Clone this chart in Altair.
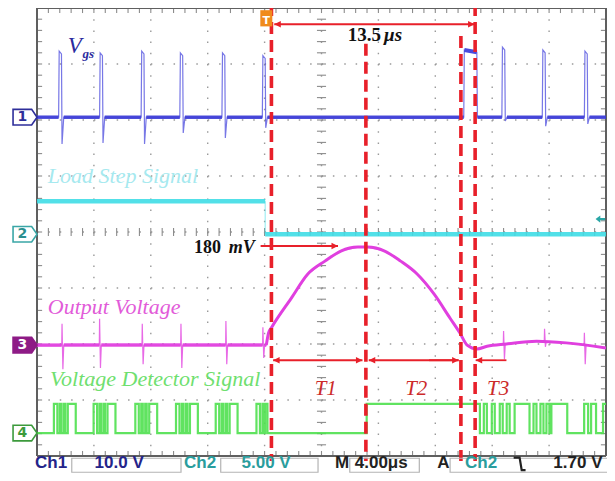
import altair as alt
import pandas as pd

# ---------------- graticule (units: screen divisions) ----------------
X_MAJOR = [1, 2, 3, 4, 5, 6, 7, 8, 9]
Y_MAJOR = [-3, -2, -1, 0, 1, 2, 3]
X_MINOR = [i / 5 for i in range(51)]
Y_MINOR = [-4 + i / 5 for i in range(41)]

# ---------------- channel 1 : Vgs ----------------
CH1_BASE = 2.05
VGS_PULSE_X = [0.38, 1.10, 1.83, 2.51, 3.25, 3.96, 8.17, 8.88, 9.62]
VGS_PULSE_TOP = [3.23, 3.20, 3.23, 3.20, 3.20, 3.15, 3.30, 3.25, 3.23]
VGS_PULSE_LOW = [1.57, 1.59, 1.57, 1.77, 1.68, 1.86, 1.98, 1.89, 1.93]
VGS_WIDE_X = [7.50, 7.74]
VGS_WIDE_TOP = [3.25, 3.21]

# ---------------- channel 2 : load step ----------------
CH2_X = [0.0, 4.01, 10.0]
CH2_LEVEL = [0.55, -0.04]

# ---------------- channel 3 : output voltage ----------------
CH3_BASE = -2.02
MAG_PRE_X = [0.44, 1.10, 1.85, 2.53, 3.32, 3.97]
MAG_PRE_UP = [-1.64, -1.55, -1.64, -1.64, -1.59, -1.70]
MAG_PRE_LOW = [-2.45, -2.43, -2.36, -2.43, -2.36, -2.25]
MAG_HUMP_X = [4.03, 4.07, 4.12, 4.47, 4.76, 5.06, 5.34, 5.64, 5.81, 6.11, 6.39,
              6.68, 6.98, 7.26, 7.43, 7.56, 7.73, 7.91, 8.25, 8.78, 9.30, 10.0]
MAG_HUMP_Y = [-2.02, -1.80, -1.71, -1.18, -0.75, -0.52, -0.34, -0.27, -0.27, -0.34, -0.52,
              -0.75, -1.11, -1.54, -1.80, -2.02, -2.09, -2.04, -2.00, -1.95, -1.98, -2.07]
MAG_POST_X = [8.20, 8.92, 9.62]
MAG_POST_BASE = [-2.00, -1.96, -2.02]
MAG_POST_UP = [-1.77, -1.73, -1.80]
MAG_POST_LOW = [-2.27, -2.05, -2.36]

# ---------------- channel 4 : voltage detector ----------------
CH4_LOW, CH4_HIGH = -3.59, -3.07
CH4_EDGES = [0.297, 0.358, 0.401, 0.428, 0.471, 0.497, 0.541, 0.681,
             0.995, 1.056, 1.099, 1.126, 1.169, 1.195, 1.239, 1.379,
             1.728, 1.789, 1.832, 1.859, 1.902, 1.928, 1.972, 2.112,
             2.443, 2.504, 2.548, 2.574, 2.618, 2.644, 2.688, 2.827,
             3.141, 3.202, 3.246, 3.272, 3.316, 3.342, 3.386, 3.525,
             3.857, 3.918, 3.962, 3.988, 4.010, 4.050,
             5.794,
             7.784, 7.853, 7.906, 7.993, 8.045, 8.133, 8.185, 8.255, 8.307, 8.394,
             8.656, 8.726, 8.778, 8.848, 8.901, 8.953, 9.005, 9.040, 9.319, 9.616,
             9.686, 9.738, 9.825, 9.948]

# ---------------- red annotations ----------------
RED_LINE_X = [4.12, 5.78, 7.45, 7.70]
RED_LINE_TOP = [4.07, 3.36, 3.50, 4.07]
RED_LINE_BOTTOM = [-4.09, -4.09, -4.09, -4.09]
ARROW_Y = [3.71, -0.25, -2.29, -2.29, -2.29, -2.29]
ARROW_X1 = [4.17, 3.93, 4.15, 5.83, 6.89, 7.71]
ARROW_X2 = [7.69, 5.29, 5.72, 7.41, 7.41, 8.25]
ARROW_HEAD_LEFT = [True, False, True, True, False, True]
ARROW_HEAD_RIGHT = [True, True, True, True, True, False]

# ---------------- texts ----------------
TRACE_LABELS = ["Load Step Signal", "Output Voltage", "Voltage Detector Signal", "V", "T1", "T2", "T3"]
TRACE_LABEL_X = [0.19, 0.19, 0.23, 0.54, 4.88, 6.47, 7.91]
TRACE_LABEL_Y = [0.875, -1.46, -2.75, 3.20, -2.91, -2.91, -2.91]
TRACE_LABEL_COLOR = ["#a6e9ef", "#e25bd9", "#6fdf6f", "#2b2b9e", "#cc2a2a", "#cc2a2a", "#cc2a2a"]
TRACE_LABEL_SIZE = [22, 22, 22, 23, 21, 21, 21]

BOLD_ITALIC = ["gs", "\u03bcs", "mV"]
BOLD_ITALIC_X = [0.80, 6.10, 3.37]
BOLD_ITALIC_Y = [3.10, 3.41, -0.375]
BOLD_ITALIC_COLOR = ["#2b2b9e", "#111111", "#111111"]
BOLD_ITALIC_SIZE = [13, 19, 18]

BOLD_SERIF = ["13.5", "180"]
BOLD_SERIF_X = [5.46, 2.76]
BOLD_SERIF_Y = [3.41, -0.375]
BOLD_SERIF_SIZE = [19, 18]

CH_MARK_NUM = ["1", "2", "3", "4"]
CH_MARK_Y = [2.05, -0.04, -2.02, -3.59]
CH_MARK_FILL = ["#ffffff", "#ffffff", "#8e1b86", "#ffffff"]
CH_MARK_STROKE = ["#2e2e9a", "#3aa6a6", "#8e1b86", "#3c9a3c"]
CH_MARK_TEXT = ["#2e2e9a", "#2a8f8f", "#ffffff", "#3c9a3c"]

STATUS_TEXT = ["Ch1", "10.0 V", "Ch2", "5.00 V", "M", "4.00\u03bcs", "A", "Ch2", "1.70 V"]
STATUS_X = [-0.035, 1.012, 2.583, 3.595, 5.236, 5.585, 7.033, 7.522, 9.075]
STATUS_COLOR = ["#24248a", "#24248a", "#2a9d9d", "#2a9d9d", "#222222", "#222222",
                "#222222", "#2a9d9d", "#222222"]
STATUS_BOX_X1 = [0.611, 3.229, 5.497, 7.260]
STATUS_BOX_X2 = [2.531, 4.939, 6.719, 10.17]
SLOPE_X = 8.50

# =====================================================================
XS = alt.Scale(domain=[0, 10], nice=False, zero=False)
YS = alt.Scale(domain=[-4, 4], nice=False, zero=False)


def X(f):
    return alt.X(f, type="quantitative", scale=XS, axis=None)


def Y(f):
    return alt.Y(f, type="quantitative", scale=YS, axis=None)


layers = []

# ---- graticule ----
vgrid = pd.DataFrame({"x": X_MAJOR, "y": 4.0, "y2": -4.0})
hgrid = pd.DataFrame({"y": Y_MAJOR, "x": 0.0, "x2": 10.0})
layers.append(alt.Chart(vgrid).mark_rule(color="#9a9a9a", strokeWidth=1.4, strokeDash=[1.5, 9.7])
              .encode(x=X("x"), y=Y("y"), y2="y2"))
layers.append(alt.Chart(hgrid).mark_rule(color="#9a9a9a", strokeWidth=1.4, strokeDash=[1.5, 9.88])
              .encode(x=X("x"), x2="x2", y=Y("y")))

vt = []
for xm in X_MINOR:
    vt += [(xm, 4.0, 3.91), (xm, -4.0, -3.91), (xm, 0.07, -0.07)]
ht = []
for ym in Y_MINOR:
    ht += [(0.0, 0.09, ym), (10.0, 9.91, ym), (4.92, 5.08, ym)]
layers.append(alt.Chart(pd.DataFrame(vt, columns=["x", "y", "y2"]))
              .mark_rule(color="#8c8c8c", strokeWidth=1.1).encode(x=X("x"), y=Y("y"), y2="y2"))
layers.append(alt.Chart(pd.DataFrame(ht, columns=["x", "x2", "y"]))
              .mark_rule(color="#8c8c8c", strokeWidth=1.1).encode(x=X("x"), x2="x2", y=Y("y")))

frame_h = pd.DataFrame({"x": [0.0, 0.0], "x2": [10.0, 10.0], "y": [4.0, -4.0]})
frame_v = pd.DataFrame({"x": [0.0, 10.0], "y": [4.0, 4.0], "y2": [-4.0, -4.0]})
layers.append(alt.Chart(frame_h).mark_rule(color="#5f5f5f", strokeWidth=2)
              .encode(x=X("x"), x2="x2", y=Y("y")))
layers.append(alt.Chart(frame_v).mark_rule(color="#5f5f5f", strokeWidth=2)
              .encode(x=X("x"), y=Y("y"), y2="y2"))

# ---- channel 2 (load step) ----
ch2_seg = pd.DataFrame({"x": CH2_X[:-1], "x2": CH2_X[1:], "y": CH2_LEVEL})
layers.append(alt.Chart(ch2_seg).mark_rule(color="#3fdde6", strokeWidth=4.5, opacity=0.9)
              .encode(x=X("x"), x2="x2", y=Y("y")))
layers.append(alt.Chart(pd.DataFrame({"x": [CH2_X[1]], "y": [CH2_LEVEL[0]], "y2": [CH2_LEVEL[1]]}))
              .mark_rule(color="#3fdde6", strokeWidth=1, opacity=0.6)
              .encode(x=X("x"), y=Y("y"), y2="y2"))

# ---- channel 1 (Vgs) ----
vgs = [(0.0, CH1_BASE)]
intervals = []
for p, t, lo in zip(VGS_PULSE_X, VGS_PULSE_TOP, VGS_PULSE_LOW):
    vgs += [(p, CH1_BASE), (p + 0.01, t), (p + 0.05, t - 0.05), (p + 0.06, lo), (p + 0.09, CH1_BASE)]
    intervals.append((p, p + 0.09))
vgs += [(VGS_WIDE_X[0], CH1_BASE), (VGS_WIDE_X[0] + 0.01, VGS_WIDE_TOP[0]),
        (VGS_WIDE_X[1] - 0.01, VGS_WIDE_TOP[1]), (VGS_WIDE_X[1], CH1_BASE)]
intervals.append((VGS_WIDE_X[0], VGS_WIDE_X[1]))
vgs.append((10.0, CH1_BASE))
vgs = sorted(vgs)
layers.append(alt.Chart(pd.DataFrame(vgs, columns=["x", "y"]))
              .mark_line(color="#4a4ade", strokeWidth=1.2, opacity=0.75)
              .encode(x=X("x"), y=Y("y")))
band = []
start = 0.0
for a, b in sorted(intervals):
    band.append((start, a))
    start = b
band.append((start, 10.0))
layers.append(alt.Chart(pd.DataFrame(band, columns=["x", "x2"]).assign(y=CH1_BASE))
              .mark_rule(color="#3b3bd6", strokeWidth=3.5, opacity=0.9)
              .encode(x=X("x"), x2="x2", y=Y("y")))
layers.append(alt.Chart(pd.DataFrame({"x": [VGS_WIDE_X[0] + 0.01], "x2": [VGS_WIDE_X[1] - 0.01],
                                      "y": [VGS_WIDE_TOP[0]], "y2": [VGS_WIDE_TOP[1]]}))
              .mark_rule(color="#4a4ade", strokeWidth=4)
              .encode(x=X("x"), x2="x2", y=Y("y"), y2="y2"))

# ---- channel 4 (detector) ----
g = [(0.0, CH4_LOW)]
lvl = CH4_LOW
for e in CH4_EDGES:
    lvl = CH4_HIGH if lvl == CH4_LOW else CH4_LOW
    g.append((e, lvl))
g.append((10.0, lvl))
layers.append(alt.Chart(pd.DataFrame(g, columns=["x", "y"]))
              .mark_line(color="#4fe04f", strokeWidth=2.2, interpolate="step-after", opacity=0.9)
              .encode(x=X("x"), y=Y("y")))

# ---- channel 3 (output voltage) ----
m = [(0.0, CH3_BASE)]
mint = []
for p, u, lo in zip(MAG_PRE_X, MAG_PRE_UP, MAG_PRE_LOW):
    m += [(p - 0.005, CH3_BASE), (p, u), (p + 0.015, lo), (p + 0.03, CH3_BASE)]
    mint.append((p - 0.005, p + 0.03))
m += list(zip(MAG_HUMP_X, MAG_HUMP_Y))
for p, b, u, lo in zip(MAG_POST_X, MAG_POST_BASE, MAG_POST_UP, MAG_POST_LOW):
    m += [(p - 0.005, b), (p, u), (p + 0.015, lo), (p + 0.03, b)]
m = sorted(m)
layers.append(alt.Chart(pd.DataFrame(m, columns=["x", "y"]))
              .mark_line(color="#e244e0", strokeWidth=1.2, opacity=0.8)
              .encode(x=X("x"), y=Y("y")))
layers.append(alt.Chart(pd.DataFrame({"x": MAG_HUMP_X, "y": MAG_HUMP_Y}))
              .mark_line(color="#e03fdf", strokeWidth=3, interpolate="monotone")
              .encode(x=X("x"), y=Y("y")))
mband = []
start = 0.0
for a, b in mint:
    mband.append((start, a))
    start = b
mband.append((start, MAG_HUMP_X[0]))
layers.append(alt.Chart(pd.DataFrame(mband, columns=["x", "x2"]).assign(y=CH3_BASE))
              .mark_rule(color="#e03fdf", strokeWidth=3.5, opacity=0.9)
              .encode(x=X("x"), x2="x2", y=Y("y")))

# ---- red annotations ----
layers.append(alt.Chart(pd.DataFrame({"x": RED_LINE_X, "y": RED_LINE_TOP, "y2": RED_LINE_BOTTOM}))
              .mark_rule(color="#e8202a", strokeWidth=3.6, strokeDash=[12, 6])
              .encode(x=X("x"), y=Y("y"), y2="y2"))
layers.append(alt.Chart(pd.DataFrame({"x": ARROW_X1, "x2": ARROW_X2, "y": ARROW_Y}))
              .mark_rule(color="#e8202a", strokeWidth=1.8)
              .encode(x=X("x"), x2="x2", y=Y("y")))
heads_r = pd.DataFrame({"x": [b for b, h in zip(ARROW_X2, ARROW_HEAD_RIGHT) if h],
                        "y": [y for y, h in zip(ARROW_Y, ARROW_HEAD_RIGHT) if h]}).drop_duplicates()
heads_l = pd.DataFrame({"x": [a for a, h in zip(ARROW_X1, ARROW_HEAD_LEFT) if h],
                        "y": [y for y, h in zip(ARROW_Y, ARROW_HEAD_LEFT) if h]})
layers.append(alt.Chart(heads_r).mark_point(shape="M0,0 L-1,-0.5 L-1,0.5 Z", filled=True,
                                            color="#e8202a", size=170, opacity=1)
              .encode(x=X("x"), y=Y("y")))
layers.append(alt.Chart(heads_l).mark_point(shape="M0,0 L1,-0.5 L1,0.5 Z", filled=True,
                                            color="#e8202a", size=170, opacity=1)
              .encode(x=X("x"), y=Y("y")))

# ---- trigger marker, right-side ch2 level arrow ----
layers.append(alt.Chart(pd.DataFrame({"x": [4.03], "y": [3.80]}))
              .mark_point(shape="M-1,-1.5 L1,-1.5 L1,1.2 L-1,1.2 Z", filled=True, color="#f08a1c",
                          size=144, opacity=1)
              .encode(x=X("x"), y=Y("y")))
layers.append(alt.Chart(pd.DataFrame({"x": [4.03], "y": [3.77], "t": ["T"]}))
              .mark_text(font="DejaVu Sans", fontWeight="bold", fontSize=11, color="white",
                         align="center", baseline="middle")
              .encode(x=X("x"), y=Y("y"), text="t:N"))
layers.append(alt.Chart(pd.DataFrame({"x": [9.90], "y": [0.23]}))
              .mark_point(shape="M-1,0 L0,-0.75 L0,-0.25 L1,-0.25 L1,0.25 L0,0.25 L0,0.75 Z",
                          filled=True, color="#2aa6a6", size=90, opacity=1)
              .encode(x=X("x"), y=Y("y")))

# ---- channel markers ----
cm = pd.DataFrame({"x": -0.21, "y": CH_MARK_Y, "fill": CH_MARK_FILL, "stroke": CH_MARK_STROKE,
                   "tc": CH_MARK_TEXT, "t": CH_MARK_NUM})
layers.append(alt.Chart(cm).mark_point(shape="M-1,-0.65 L0.55,-0.65 L1,0 L0.55,0.65 L-1,0.65 Z",
                                       filled=True, size=576, strokeWidth=1.6, opacity=1)
              .encode(x=X("x"), y=Y("y"), fill=alt.Fill("fill:N", scale=None),
                      stroke=alt.Stroke("stroke:N", scale=None)))
layers.append(alt.Chart(cm.assign(x=-0.255)).mark_text(font="DejaVu Sans", fontSize=14, fontWeight="bold",
                                                      align="center", baseline="middle")
              .encode(x=X("x"), y=Y("y"), text="t:N", color=alt.Color("tc:N", scale=None)))

# ---- trace labels ----
tl = pd.DataFrame({"t": TRACE_LABELS, "x": TRACE_LABEL_X, "y": TRACE_LABEL_Y,
                   "c": TRACE_LABEL_COLOR, "s": TRACE_LABEL_SIZE})
layers.append(alt.Chart(tl).mark_text(font="Liberation Serif", fontStyle="italic", align="left",
                                      baseline="alphabetic")
              .encode(x=X("x"), y=Y("y"), text="t:N", color=alt.Color("c:N", scale=None),
                      size=alt.Size("s:Q", scale=None)))
bi = pd.DataFrame({"t": BOLD_ITALIC, "x": BOLD_ITALIC_X, "y": BOLD_ITALIC_Y,
                   "c": BOLD_ITALIC_COLOR, "s": BOLD_ITALIC_SIZE})
layers.append(alt.Chart(bi).mark_text(font="Liberation Serif", fontStyle="italic", fontWeight="bold",
                                      align="left", baseline="alphabetic")
              .encode(x=X("x"), y=Y("y"), text="t:N", color=alt.Color("c:N", scale=None),
                      size=alt.Size("s:Q", scale=None)))
bs = pd.DataFrame({"t": BOLD_SERIF, "x": BOLD_SERIF_X, "y": BOLD_SERIF_Y, "s": BOLD_SERIF_SIZE})
layers.append(alt.Chart(bs).mark_text(font="Liberation Serif", fontWeight="bold",
                                      color="#111111", align="left", baseline="alphabetic")
              .encode(x=X("x"), y=Y("y"), text="t:N", size=alt.Size("s:Q", scale=None)))

# ---- status bar ----
sb = pd.DataFrame({"x": STATUS_BOX_X1, "x2": STATUS_BOX_X2, "y": -4.04, "y2": -4.29})
layers.append(alt.Chart(sb).mark_rect(fillOpacity=0, stroke="#b4b4b4", strokeWidth=1.2)
              .encode(x=X("x"), x2="x2", y=Y("y"), y2="y2"))
st = pd.DataFrame({"t": STATUS_TEXT, "x": STATUS_X, "y": -4.215, "c": STATUS_COLOR})
layers.append(alt.Chart(st).mark_text(font="Liberation Sans", fontWeight="bold", fontSize=17,
                                      align="left", baseline="alphabetic")
              .encode(x=X("x"), y=Y("y"), text="t:N", color=alt.Color("c:N", scale=None)))
layers.append(alt.Chart(pd.DataFrame({"x": [SLOPE_X], "y": [-4.14]}))
              .mark_point(shape="M-1,-0.9 L-0.15,-0.9 L0.15,0.9 L0.7,0.9", filled=False,
                          color="#222222", size=196, strokeWidth=2.2, opacity=1)
              .encode(x=X("x"), y=Y("y")))

chart = (alt.layer(*layers)
         .properties(width=569, height=448,
                     padding={"left": 29, "top": 0, "right": 1, "bottom": 17},
                     autosize=alt.AutoSizeParams(type="none"),
                     background="white")
         .configure_view(stroke=None))

chart.save("out.html", embed_options={"renderer": "svg", "actions": False})
